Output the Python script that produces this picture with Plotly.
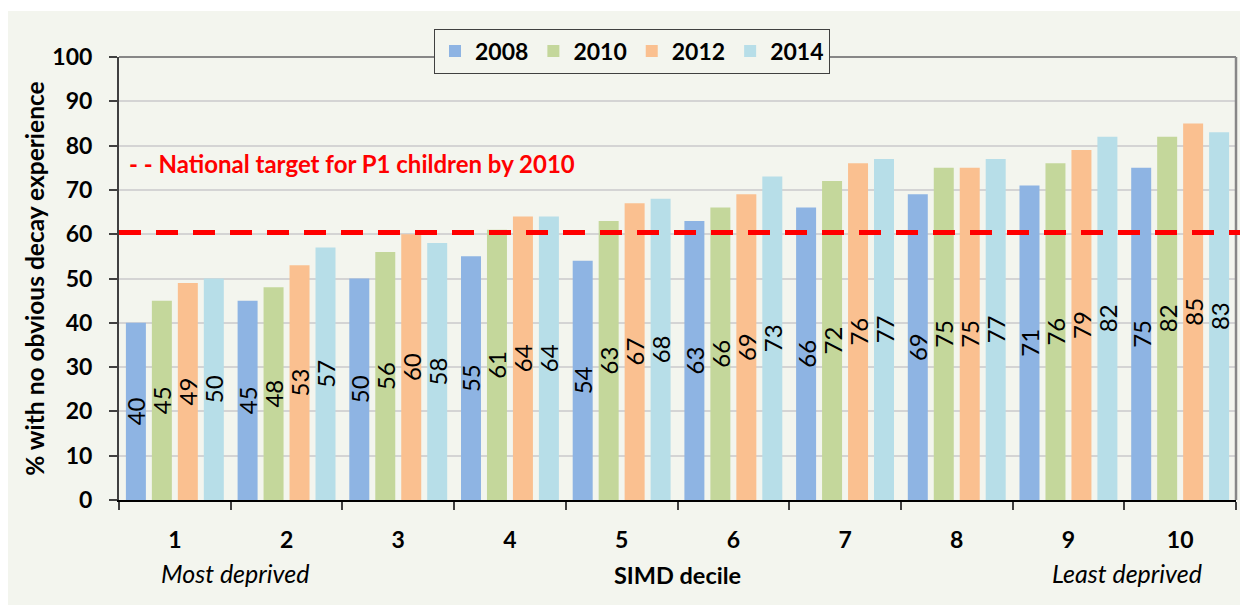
import plotly.graph_objects as go

deciles = ["1", "2", "3", "4", "5", "6", "7", "8", "9", "10"]
years = ["2008", "2010", "2012", "2014"]
v2008 = [40, 45, 50, 55, 54, 63, 66, 69, 71, 75]
v2010 = [45, 48, 56, 61, 63, 66, 72, 75, 76, 82]
v2012 = [49, 53, 60, 64, 67, 69, 76, 75, 79, 85]
v2014 = [50, 57, 58, 64, 68, 73, 77, 77, 82, 83]
series = [v2008, v2010, v2012, v2014]
colors = ["#8eb4e3", "#c4d79b", "#fac090", "#b7dee8"]
target_value = 60.4
target_label = "- - National target for P1 children by 2010"
y_ticks = list(range(0, 101, 10))

BG = "#f3f5ee"
FONT = "Lato"

fig = go.Figure()
for name, vals, col in zip(years, series, colors):
    fig.add_trace(go.Bar(
        x=deciles, y=vals, name=name,
        marker=dict(color=col, line=dict(width=0)),
        text=[str(v) for v in vals],
        textposition="inside", insidetextanchor="middle",
        textangle=-90, constraintext="none",
        insidetextfont=dict(family=FONT, size=24, color="black"),
        hoverinfo="x+y+name",
    ))

OFF = 8  # page body margin
W, H = 1240, 597
L, T = 119 - OFF, 57 - OFF
R = W - (1236 - OFF)
B = H - (500 - OFF)
pw, ph = W - L - R, H - T - B

def px(x):
    return (x - OFF - L) / pw

def py(y):
    return (H - B - (y - OFF)) / ph

shapes = [
    # thin white strip at top of the panel
    dict(type="rect", xref="paper", yref="paper", x0=px(0), x1=px(1300),
         y0=py(11), y1=py(0), fillcolor="white", line=dict(width=0), layer="below"),
    # top and right plot border
    dict(type="line", xref="paper", yref="paper", x0=0, x1=1, y0=1, y1=1,
         line=dict(color="#878787", width=2)),
    dict(type="line", xref="paper", yref="paper", x0=1, x1=1, y0=0, y1=1,
         line=dict(color="#878787", width=2.5)),
    # target line
    dict(type="line", xref="paper", yref="y", x0=0, x1=px(1241),
         y0=target_value, y1=target_value,
         line=dict(color="#ff0000", width=5, dash="22px,15px")),
]

annotations = [
    dict(text=target_label, xref="paper", yref="paper", x=px(127), y=py(163),
         xanchor="left", yanchor="middle", showarrow=False,
         font=dict(family=FONT, size=24, color="#ff0000", weight="bold")),
    dict(text="<i>Most deprived</i>", xref="paper", yref="paper", x=px(235), y=py(573),
         xanchor="center", yanchor="middle", showarrow=False,
         font=dict(family=FONT, size=25, color="black")),
    dict(text="<i>Least deprived</i>", xref="paper", yref="paper", x=px(1127), y=py(573),
         xanchor="center", yanchor="middle", showarrow=False,
         font=dict(family=FONT, size=25, color="black")),
]

fig.update_layout(
    width=W, height=H,
    margin=dict(l=L, r=R, t=T, b=B, autoexpand=False),
    paper_bgcolor=BG, plot_bgcolor=BG,
    barmode="group", bargap=0.07, bargroupgap=0.23,
    font=dict(family=FONT, color="black"),
    shapes=shapes, annotations=annotations,
    legend=dict(orientation="h", x=px(632), y=py(51), xanchor="center", yanchor="middle",
                bgcolor=BG, bordercolor="#404040", borderwidth=1,
                font=dict(family=FONT, size=23, color="black", weight="bold"),
                itemwidth=30, traceorder="normal"),
    xaxis=dict(
        type="category", tickson="boundaries", ticks="outside", ticklen=8,
        tickcolor="#404040", tickwidth=1.5,
        showline=True, linecolor="black", linewidth=2,
        showgrid=False, ticklabelstandoff=18,
        tickfont=dict(family=FONT, size=23, color="black", weight="bold"),
        title=dict(text="SIMD decile", standoff=16,
                   font=dict(family=FONT, size=23.5, color="black", weight="bold")),
    ),
    yaxis=dict(
        range=[0, 100], tickvals=y_ticks, ticks="outside", ticklen=8,
        tickcolor="#404040", tickwidth=1.5,
        showline=True, linecolor="#404040", linewidth=2,
        showgrid=True, gridcolor="#d4d4d4", gridwidth=1.5,
        zeroline=False, ticklabelstandoff=12,
        tickfont=dict(family=FONT, size=23, color="black", weight="bold"),
        title=dict(text="% with no obvious decay experience", standoff=1,
                   font=dict(family=FONT, size=24.5, color="black", weight="bold")),
    ),
)

fig.write_html("out.html")
